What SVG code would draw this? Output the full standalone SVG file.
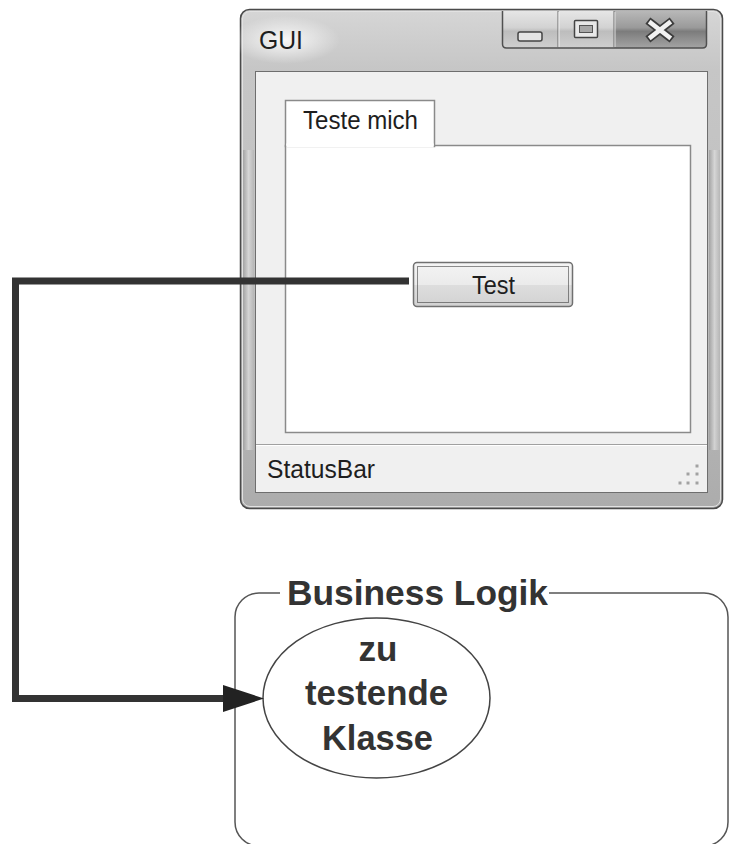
<svg xmlns="http://www.w3.org/2000/svg" width="730" height="844" viewBox="0 0 730 844">
<style>
.ui{font-family:"Liberation Sans",Arial,sans-serif;fill:#1e1e1e;font-size:26px}
.big{font-family:"Liberation Sans",Arial,sans-serif;font-weight:bold;fill:#333;font-size:35px}
.conn{fill:none;stroke:#333;stroke-width:7;stroke-linejoin:miter}
.sep{stroke:#6a6a6a;stroke-width:1}
.dot{fill:#a2a2a2}
</style>
<defs>
<linearGradient id="frameGrad" x1="0" y1="0" x2="0" y2="1">
<stop offset="0" stop-color="#d6d6d6"/>
<stop offset="0.12" stop-color="#c6c6c6"/>
<stop offset="0.5" stop-color="#c0c0c0"/>
<stop offset="1" stop-color="#acacac"/>
</linearGradient>
<linearGradient id="sideGrad" x1="0" y1="0" x2="1" y2="0">
<stop offset="0" stop-color="#9c9c9c"/>
<stop offset="0.5" stop-color="#dadada"/>
<stop offset="1" stop-color="#b4b4b4"/>
</linearGradient>
<radialGradient id="glow" cx="0.5" cy="0.5" r="0.5">
<stop offset="0" stop-color="#ffffff" stop-opacity="0.85"/>
<stop offset="1" stop-color="#ffffff" stop-opacity="0"/>
</radialGradient>
<linearGradient id="capGrad" x1="0" y1="0" x2="0" y2="1">
<stop offset="0" stop-color="#e6e6e6"/>
<stop offset="0.45" stop-color="#d2d2d2"/>
<stop offset="0.55" stop-color="#bdbdbd"/>
<stop offset="1" stop-color="#cfcfcf"/>
</linearGradient>
<linearGradient id="closeGrad" x1="0" y1="0" x2="0" y2="1">
<stop offset="0" stop-color="#b8b8b8"/>
<stop offset="0.45" stop-color="#9a9a9a"/>
<stop offset="0.55" stop-color="#7c7c7c"/>
<stop offset="1" stop-color="#a4a4a4"/>
</linearGradient>
<linearGradient id="btnGrad" x1="0" y1="0" x2="0" y2="1">
<stop offset="0" stop-color="#f4f4f4"/>
<stop offset="0.5" stop-color="#ebebeb"/>
<stop offset="0.52" stop-color="#dddddd"/>
<stop offset="1" stop-color="#d2d2d2"/>
</linearGradient>
<marker id="arrow" markerUnits="userSpaceOnUse" viewBox="0 0 41 27" refX="0" refY="13.5" markerWidth="41" markerHeight="27" orient="auto">
<path d="M0,0 L41,13.5 L0,27 Z" fill="#222"/>
</marker>
</defs>

<g id="gui-window">
<rect x="240.5" y="9.5" width="482" height="499" rx="9" fill="url(#frameGrad)" stroke="#4a4a4a" stroke-width="1.5"/>
<rect x="242.5" y="11.5" width="478" height="495" rx="7.5" fill="none" stroke="#e2e2e2" stroke-width="1"/>
<rect x="243" y="150" width="11" height="300" fill="url(#sideGrad)" opacity="0.8"/>
<rect x="709" y="150" width="11" height="300" fill="url(#sideGrad)" opacity="0.8"/>
<ellipse cx="285" cy="40" rx="55" ry="24" fill="url(#glow)"/>
<text class="ui" x="259" y="49" fill="#333" font-size="24" textLength="44" lengthAdjust="spacingAndGlyphs">GUI</text>

<g id="caption-buttons">
<path d="M502,11 V44 Q502,48 506,48 H558 V11 Z" fill="url(#capGrad)"/>
<rect x="558" y="11" width="56" height="37" fill="url(#capGrad)"/>
<path d="M614,11 V48 H703 Q707,48 707,44 V11 Z" fill="url(#closeGrad)"/>
<path d="M502.5,11 V44 Q502.5,48 506.5,48 H702.5 Q706.5,48 706.5,44 V11" fill="none" stroke="#505050" stroke-width="1.5"/>
<line class="sep" x1="558" y1="11" x2="558" y2="48"/>
<line x1="559" y1="12" x2="559" y2="47" stroke="#f0f0f0"/>
<line class="sep" x1="614" y1="11" x2="614" y2="48"/>
<line x1="615" y1="12" x2="615" y2="47" stroke="#e0e0e0"/>
<rect x="518" y="32" width="24" height="9" rx="2" fill="#e4e4e4" stroke="#444" stroke-width="1.5"/>
<rect x="574.5" y="20.5" width="23" height="17" rx="1" fill="#e8e8e8" stroke="#444" stroke-width="1.5"/>
<rect x="579.5" y="25.5" width="13" height="7" fill="#a8a8a8" stroke="#555" stroke-width="1"/>
<path d="M651,23 L669,37 M669,23 L651,37" stroke="#3c3c3c" stroke-width="8" stroke-linecap="square" fill="none"/>
<path d="M651,23 L669,37 M669,23 L651,37" stroke="#f2f2f2" stroke-width="4.5" stroke-linecap="square" fill="none"/>
</g>

<rect x="255.5" y="71.5" width="452" height="421" fill="#f0f0f0" stroke="#6e6e6e" stroke-width="1"/>
<rect x="285.5" y="145.5" width="405" height="287" fill="#ffffff" stroke="#8a8a8a" stroke-width="1.5"/>
<rect x="285.5" y="100.5" width="149" height="46" fill="#ffffff" stroke="#8a8a8a" stroke-width="1.5"/>
<rect x="286.3" y="143.5" width="147.4" height="4" fill="#ffffff"/>
<text class="ui" x="303" y="129" textLength="115" lengthAdjust="spacingAndGlyphs">Teste mich</text>

<line x1="256" y1="444.5" x2="707" y2="444.5" stroke="#a0a0a0" stroke-width="1"/>
<line x1="256" y1="445.5" x2="707" y2="445.5" stroke="#ffffff" stroke-width="1"/>
<text class="ui" x="267" y="478" textLength="108" lengthAdjust="spacingAndGlyphs">StatusBar</text>
<rect class="dot" x="695.5" y="464.5" width="3" height="3"/>
<rect class="dot" x="686.5" y="472.5" width="3" height="3"/>
<rect class="dot" x="695.5" y="472.5" width="3" height="3"/>
<rect class="dot" x="678.5" y="481.5" width="3" height="3"/>
<rect class="dot" x="686.5" y="481.5" width="3" height="3"/>
<rect class="dot" x="695.5" y="481.5" width="3" height="3"/>
</g>

<g id="test-button">
<rect x="413.5" y="262.5" width="159" height="44" rx="3.5" fill="url(#btnGrad)" stroke="#707070" stroke-width="1.5"/>
<rect x="417.5" y="266.5" width="151" height="36" fill="none" stroke="#222" stroke-width="1" stroke-dasharray="1 1"/>
<text class="ui" x="493.5" y="293.5" text-anchor="middle" textLength="43" lengthAdjust="spacingAndGlyphs">Test</text>
</g>

<g id="business-logik">
<rect x="235" y="593" width="493" height="253" rx="24" fill="none" stroke="#555" stroke-width="1.5"/>
<rect x="280" y="578" width="269" height="30" fill="#ffffff"/>
<text class="big" x="287" y="605" textLength="261" lengthAdjust="spacingAndGlyphs">Business Logik</text>
</g>

<g id="zu-testende-klasse">
<ellipse cx="376.5" cy="698" rx="113.5" ry="80" fill="#ffffff" stroke="#444" stroke-width="1.5"/>
<text class="big" x="378" y="661" text-anchor="middle">zu</text>
<text class="big" x="376.5" y="705" text-anchor="middle" textLength="143" lengthAdjust="spacingAndGlyphs">testende</text>
<text class="big" x="377.5" y="750" text-anchor="middle" textLength="111" lengthAdjust="spacingAndGlyphs">Klasse</text>
</g>

<g id="connectors">
<path class="conn" d="M409,281 H15.5 V698.5 H223" marker-end="url(#arrow)"/>
</g>
</svg>
